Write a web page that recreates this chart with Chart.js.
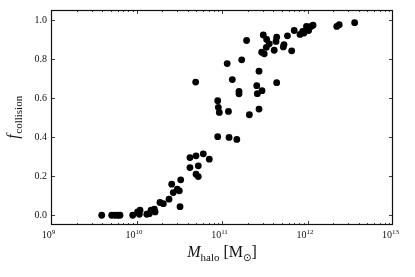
<!DOCTYPE html>
<html><head><meta charset="utf-8">
<script src="https://cdn.jsdelivr.net/npm/chart.js@4"></script>
<style>html,body{margin:0;padding:0;background:#fff}#wrap{width:415px;height:277px}</style>
</head><body><div id="wrap"><canvas id="c" width="415" height="277"></canvas></div>
<script>
const haloMass = [3.92e9,5.13e9,5.60e9,6.03e9,6.41e9,9.03e9,1.03e10,1.10e10,1.08e10,1.32e10,
1.41e10,1.48e10,1.62e10,1.65e10,1.88e10,2.06e10,2.40e10,2.58e10,2.69e10,3.00e10,
3.17e10,3.29e10,3.23e10,4.22e10,4.22e10,4.97e10,4.97e10,5.28e10,5.28e10,6.04e10,
7.10e10,8.91e10,1.21e11,1.49e11,8.91e10,9.06e10,9.30e10,1.19e11,2.09e11,2.71e11,
1.58e11,1.58e11,1.32e11,4.92e10,2.55e11,2.94e11,2.59e11,4.36e11,2.71e11,1.15e11,
1.70e11,1.94e11,3.04e11,3.33e11,3.57e11,3.30e11,2.91e11,3.12e11,4.36e11,4.28e11,
4.08e11,5.31e11,5.21e11,5.83e11,6.53e11,6.99e11,8.17e11,9.10e11,1.03e12,9.73e11,
1.10e12,1.16e12,2.20e12,2.35e12,3.56e12,8.79e11];
const fCollision = [0,0,0,0,0,0,0.017,0.026,0.005,0.005,
0.008,0.026,0.031,0.017,0.065,0.059,0.082,0.159,0.116,0.133,
0.125,0.181,0.044,0.295,0.244,0.304,0.210,0.253,0.198,0.314,
0.287,0.402,0.398,0.388,0.586,0.552,0.526,0.531,0.514,0.543,
0.634,0.621,0.694,0.681,0.663,0.637,0.622,0.678,0.737,0.776,
0.795,0.894,0.922,0.899,0.877,0.859,0.834,0.826,0.911,0.889,
0.844,0.873,0.861,0.918,0.841,0.945,0.925,0.932,0.945,0.966,
0.966,0.972,0.966,0.975,0.985,0.940];
const xTickExponents = [9,10,11,12,13];
const yTickValues = [0,0.2,0.4,0.6,0.8,1.0];
const yTickLabels = ['0.0','0.2','0.4','0.6','0.8','1.0'];

const SERIF = '"Liberation Serif", "DejaVu Serif", serif';

const points = haloMass.map((m,i)=>({x:m, y:fCollision[i]}));

const framePlugin = {
  id:'frame',
  afterDraw(chart){
    const ctx = chart.ctx;
    const {left,right,top,bottom} = chart.chartArea;
    const xs = chart.scales.x, ys = chart.scales.y;
    ctx.save();
    ctx.strokeStyle = '#111';
    ctx.lineWidth = 1.2;
    ctx.strokeRect(left+0.5, top+0.5, right-left-1, bottom-top-1);
    ctx.lineWidth = 0.8;
    ctx.beginPath();
    // y ticks
    yTickValues.forEach(v=>{
      const y = Math.round(ys.getPixelForValue(v))+0.5;
      ctx.moveTo(left, y); ctx.lineTo(left+4, y);
      ctx.moveTo(right, y); ctx.lineTo(right-4, y);
    });
    // x ticks major + minor
    for (let e=xTickExponents[0]; e<xTickExponents[xTickExponents.length-1]; e++){
      for (let k=1;k<10;k++){
        const x = Math.round(xs.getPixelForValue(k*Math.pow(10,e)))+0.5;
        const len = k===1?4:2;
        ctx.moveTo(x,bottom); ctx.lineTo(x,bottom-len);
        ctx.moveTo(x,top); ctx.lineTo(x,top+len);
      }
    }
    ctx.stroke();
    // y tick labels
    ctx.fillStyle = '#111';
    ctx.font = '10px '+SERIF;
    ctx.textAlign = 'right';
    ctx.textBaseline = 'middle';
    yTickValues.forEach((v,i)=>{
      ctx.fillText(yTickLabels[i], left-4, ys.getPixelForValue(v)+0.5);
    });
    // x tick labels with superscripts
    ctx.textAlign = 'left';
    ctx.textBaseline = 'alphabetic';
    xTickExponents.forEach(e=>{
      const x = xs.getPixelForValue(Math.pow(10,e));
      ctx.font = '10px '+SERIF;
      const w1 = ctx.measureText('10').width;
      ctx.font = '7px '+SERIF;
      const w2 = ctx.measureText(String(e)).width;
      const x0 = x - 2.5 - (w1+w2)/2;
      ctx.font = '10px '+SERIF;
      ctx.fillText('10', x0, 238);
      ctx.font = '7px '+SERIF;
      ctx.fillText(String(e), x0+w1, 233.5);
    });
    // x axis title
    const parts = [
      {t:'M', f:'italic 16px '+SERIF, dy:0},
      {t:'halo', f:'11px '+SERIF, dy:3.5},
      {t:' [M', f:'16px '+SERIF, dy:0},
      {t:'\u2299', f:'10px "DejaVu Sans", sans-serif', dy:3.5},
      {t:']', f:'16px '+SERIF, dy:0}
    ];
    let tw = 0;
    parts.forEach(p=>{ctx.font=p.f; p.w=ctx.measureText(p.t).width; tw+=p.w;});
    let cx = (left+right)/2 - tw/2;
    parts.forEach(p=>{ctx.font=p.f; ctx.fillText(p.t, cx, 257+p.dy); cx+=p.w;});
    // y axis title
    ctx.translate(18, (top+bottom)/2);
    ctx.rotate(-Math.PI/2);
    const yp = [
      {t:'f', f:'italic 16px '+SERIF, dy:0},
      {t:'collision', f:'11px '+SERIF, dy:3.5}
    ];
    tw = 0;
    yp.forEach(p=>{ctx.font=p.f; p.w=ctx.measureText(p.t).width; tw+=p.w;});
    cx = -tw/2;
    yp.forEach(p=>{ctx.font=p.f; ctx.fillText(p.t, cx, p.dy); cx+=p.w+0.5;});
    ctx.restore();
  }
};

new Chart(document.getElementById('c'), {
  type:'scatter',
  data:{datasets:[{data:points, backgroundColor:'#000', borderColor:'#000', borderWidth:0, pointRadius:3.4, pointHoverRadius:3.4}]},
  options:{
    responsive:false, animation:false, devicePixelRatio:1,
    layout:{padding:{left:0,right:22,top:10,bottom:0}},
    plugins:{legend:{display:false}, tooltip:{enabled:false}},
    scales:{
      x:{type:'logarithmic', min:1e9, max:1e13,
        afterBuildTicks(s){ s.ticks = xTickExponents.map(e=>({value:Math.pow(10,e)})); },
        afterFit(s){ s.height = 52; },
        ticks:{display:false}, grid:{display:false}, border:{display:false}},
      y:{type:'linear', min:-0.05, max:1.05,
        afterBuildTicks(s){ s.ticks = yTickValues.map(v=>({value:v})); },
        afterFit(s){ s.width = 51; },
        ticks:{display:false}, grid:{display:false}, border:{display:false}}
    }
  },
  plugins:[framePlugin]
});
</script></body></html>
